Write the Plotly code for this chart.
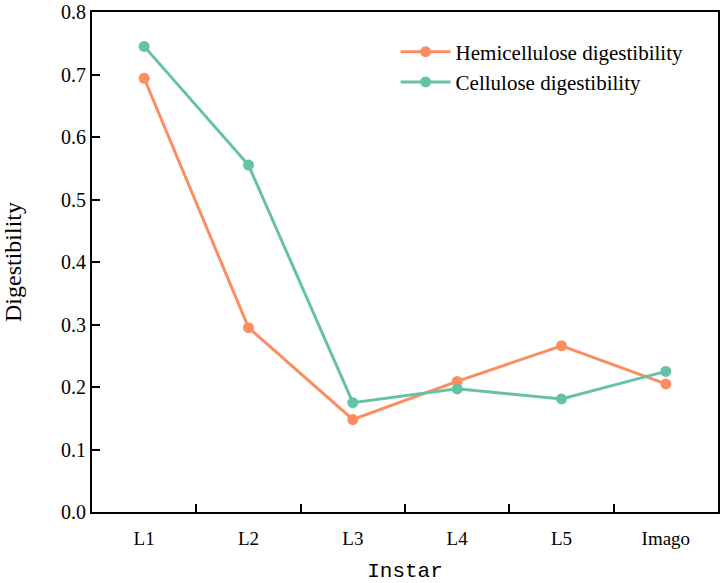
import plotly.graph_objects as go

instars = ["L1", "L2", "L3", "L4", "L5", "Imago"]
hemicellulose = [0.694, 0.295, 0.148, 0.209, 0.266, 0.205]
cellulose = [0.745, 0.555, 0.175, 0.197, 0.181, 0.225]
y_ticks = [0.0, 0.1, 0.2, 0.3, 0.4, 0.5, 0.6, 0.7, 0.8]
y_ticktext = ["0.0", "0.1", "0.2", "0.3", "0.4", "0.5", "0.6", "0.7", "0.8"]

fig = go.Figure()
fig.add_trace(go.Scatter(x=instars, y=hemicellulose, mode="lines+markers",
                         name="Hemicellulose digestibility",
                         line=dict(color="#FC8D62", width=3),
                         marker=dict(color="#FC8D62", size=11)))
fig.add_trace(go.Scatter(x=instars, y=cellulose, mode="lines+markers",
                         name="Cellulose digestibility",
                         line=dict(color="#66C2A5", width=3),
                         marker=dict(color="#66C2A5", size=11)))

fig.update_layout(
    width=720, height=583,
    margin=dict(l=92, r=2, t=12, b=71, autoexpand=False),
    plot_bgcolor="white", paper_bgcolor="white",
    font=dict(family="Liberation Serif", color="black", size=19),
    showlegend=True,
    legend=dict(x=0.485, y=0.961, xanchor="left", yanchor="top",
                bgcolor="rgba(0,0,0,0)", font=dict(size=21),
                tracegroupgap=0, itemwidth=50),
)
fig.update_xaxes(
    type="category", range=[-0.5, 5.5], automargin=False,
    showline=True, linecolor="black", linewidth=2, mirror=True,
    ticks="inside", ticklen=8, tickwidth=2, tickcolor="black",
    tickson="boundaries", showgrid=False, ticklabelstandoff=8,
    tickfont=dict(size=19),
    title=dict(text="Instar", font=dict(size=21, family="Liberation Mono"), standoff=16),
)
fig.update_yaxes(
    range=[0, 0.8], tickvals=y_ticks, ticktext=y_ticktext, automargin=False,
    showline=True, linecolor="black", linewidth=2, mirror=True,
    ticks="inside", ticklen=8, tickwidth=2, tickcolor="black",
    showgrid=False, zeroline=False,
    ticklabeloverflow="allow",
    tickfont=dict(size=20),
    title=dict(text="Digestibility", font=dict(size=24), standoff=40),
)

fig.write_html("out.html", post_script="document.body.style.margin='0';",
               config={"displayModeBar": False})
